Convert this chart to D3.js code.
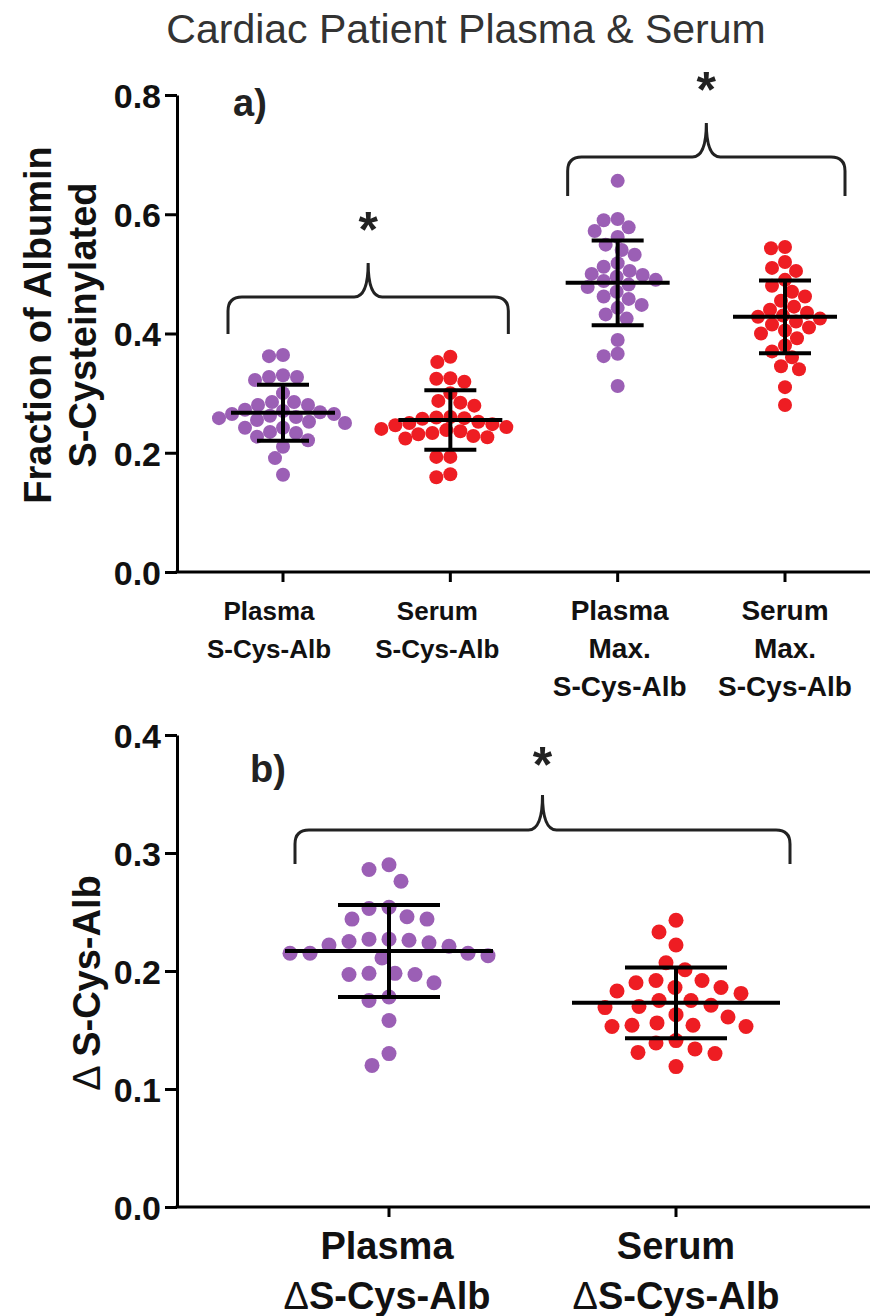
<!DOCTYPE html>
<html><head><meta charset="utf-8">
<script src="https://cdn.jsdelivr.net/npm/d3@7"></script>
<style>body{margin:0;background:#fff}svg{display:block}text{font-family:"Liberation Sans",Arial,sans-serif}</style>
</head><body>
<svg id="c" width="891" height="1316"></svg>
<script>
// ---- data ----
const catsA = ["Plasma|S-Cys-Alb", "Serum|S-Cys-Alb", "Plasma|Max.|S-Cys-Alb", "Serum|Max.|S-Cys-Alb"];
const colorsA = ["#9b5fb5", "#ee1d23", "#9b5fb5", "#ee1d23"];
const plasmaCys = [0.362,0.364,0.327,0.322,0.330,0.327,0.300,0.280,0.285,0.285,0.280,0.270,0.268,0.265,0.262,0.260,0.258,0.255,0.272,0.265,0.250,0.252,0.242,0.233,0.221,0.210,0.227,0.235,0.242,0.191,0.163];
const serumCys = [0.352,0.361,0.325,0.319,0.324,0.300,0.287,0.279,0.284,0.258,0.260,0.257,0.259,0.250,0.246,0.243,0.240,0.238,0.236,0.233,0.231,0.228,0.226,0.224,0.193,0.193,0.159,0.164,0.252,0.248];
const plasmaMax = [0.656,0.592,0.590,0.578,0.572,0.562,0.549,0.540,0.532,0.518,0.512,0.505,0.500,0.498,0.495,0.490,0.488,0.482,0.478,0.470,0.462,0.458,0.448,0.443,0.432,0.425,0.389,0.366,0.362,0.312];
const serumMax = [0.545,0.543,0.520,0.510,0.505,0.490,0.480,0.470,0.462,0.455,0.445,0.440,0.435,0.430,0.428,0.425,0.420,0.415,0.410,0.405,0.400,0.392,0.380,0.370,0.360,0.345,0.340,0.310,0.280];
const meansA = [0.267, 0.255, 0.485, 0.428];
const sdA = [0.047, 0.050, 0.071, 0.061];
const ticksA = [0, 0.2, 0.4, 0.6, 0.8];

const catsB = ["Plasma|ΔS-Cys-Alb", "Serum|ΔS-Cys-Alb"];
const colorsB = ["#9b5fb5", "#ee1d23"];
const plasmaDelta = [0.290,0.286,0.276,0.253,0.254,0.244,0.244,0.246,0.225,0.222,0.227,0.224,0.226,0.227,0.213,0.215,0.215,0.215,0.221,0.211,0.198,0.197,0.197,0.190,0.198,0.178,0.175,0.158,0.130,0.120];
const serumDelta = [0.243,0.233,0.222,0.207,0.201,0.192,0.186,0.183,0.181,0.186,0.190,0.192,0.175,0.171,0.169,0.170,0.175,0.161,0.163,0.154,0.153,0.153,0.154,0.156,0.141,0.139,0.131,0.130,0.134,0.119];
const meansB = [0.217, 0.173];
const sdB = [0.039, 0.030];
const ticksB = [0, 0.1, 0.2, 0.3, 0.4];

const svg = d3.select("#c");
const FONT = '"Liberation Sans",Arial,sans-serif';

svg.append("text").attr("x", 466).attr("y", 43).attr("text-anchor","middle")
  .attr("font-size", 41).attr("fill","#333").text("Cardiac Patient Plasma & Serum");

function beeswarm(vals, y, r, cx, D) {
  const sorted = vals.map((v,i)=>({v,i})).sort((a,b)=>b.v-a.v);
  const placed = [];
  sorted.forEach(p => {
    const py = y(p.v);
    let best = cx;
    for (let k = 0; k < 600; k++) {
      const off = (k % 2 === 0 ? 1 : -1) * Math.ceil(k/2);
      const px = cx + off;
      const ok = placed.every(q => (q.x-px)**2 + (q.y-py)**2 >= D*D);
      if (ok) { best = px; break; }
    }
    placed.push({x: best, y: py, v: p.v});
  });
  return placed;
}

function panel(cfg) {
  const {y, x, cats, groups, colors, means, sds, ticks, r, meanHalf, capHalf, xEnd} = cfg;
  const g = svg.append("g");
  const x0 = x.range()[0] - cfg.axisGap;
  const ax = g.append("g").attr("transform", `translate(${x0},0)`)
    .call(d3.axisLeft(y).tickValues(ticks).tickFormat(d3.format(".1f")).tickSize(12).tickSizeOuter(0));
  ax.select(".domain").attr("stroke","#000").attr("stroke-width",3);
  ax.selectAll(".tick line").attr("stroke","#000").attr("stroke-width",3);
  ax.selectAll(".tick text").attr("font-family",FONT).attr("font-weight","bold")
    .attr("font-size", 34).attr("fill","#111").attr("x",-16).attr("dy","0.36em");
  g.append("line").attr("x1", x0-1.5).attr("x2", xEnd).attr("y1", y(0)).attr("y2", y(0))
    .attr("stroke","#000").attr("stroke-width",3);
  cats.forEach((c, ci) => {
    g.append("line").attr("x1", x(c)).attr("x2", x(c)).attr("y1", y(0)).attr("y2", y(0)+10)
      .attr("stroke","#000").attr("stroke-width",3);
    const lines = c.split("|");
    const fs = cfg.labelSize[ci];
    lines.forEach((t,i) => {
      const tx = g.append("text").attr("x", x(c) + cfg.labelShift[ci]).attr("y", cfg.labelY + i*cfg.lineH)
        .attr("text-anchor","middle").attr("font-weight","bold").attr("font-size", fs).attr("fill","#111");
      if (t.startsWith("Δ")) {
        tx.append("tspan").attr("font-weight","normal").text("Δ");
        tx.append("tspan").text(t.slice(1));
      } else tx.text(t);
    });
  });
  groups.forEach((vals, gi) => {
    const pts = beeswarm(vals, y, r, x(cats[gi]), cfg.D);
    g.append("g").selectAll("circle").data(pts).join("circle")
      .attr("cx", d=>d.x).attr("cy", d=>d.y).attr("r", r).attr("fill", colors[gi]);
  });
  cats.forEach((c, gi) => {
    const cx = x(c), m = means[gi], s = sds[gi];
    const eg = g.append("g").attr("stroke","#000").attr("stroke-width",4);
    eg.append("line").attr("x1", cx-meanHalf).attr("x2", cx+meanHalf).attr("y1", y(m)).attr("y2", y(m));
    eg.append("line").attr("x1", cx).attr("x2", cx).attr("y1", y(m+s)).attr("y2", y(m-s));
    eg.append("line").attr("x1", cx-capHalf).attr("x2", cx+capHalf).attr("y1", y(m+s)).attr("y2", y(m+s));
    eg.append("line").attr("x1", cx-capHalf).attr("x2", cx+capHalf).attr("y1", y(m-s)).attr("y2", y(m-s));
  });
  return g;
}

function brace(xl, xr, yTop, yEnd, yPeak, starY) {
  const xm = (xl + xr)/2, rr = 14;
  const p = d3.path();
  p.moveTo(xl, yEnd);
  p.lineTo(xl, yTop + rr);
  p.quadraticCurveTo(xl, yTop, xl + rr, yTop);
  p.lineTo(xm - rr, yTop);
  p.quadraticCurveTo(xm, yTop, xm, yPeak);
  p.quadraticCurveTo(xm, yTop, xm + rr, yTop);
  p.lineTo(xr - rr, yTop);
  p.quadraticCurveTo(xr, yTop, xr, yTop + rr);
  p.lineTo(xr, yEnd);
  svg.append("path").attr("d", p.toString()).attr("fill","none").attr("stroke","#222").attr("stroke-width",3);
  svg.append("text").attr("x", xm).attr("y", starY).attr("text-anchor","middle")
    .attr("font-weight","bold").attr("font-size", 50).attr("fill","#222").text("*");
}

// ---- panel a ----
const yA = d3.scaleLinear().domain([0, 0.8]).range([572, 95]);
const xA = d3.scalePoint().domain(catsA).range([283, 785]);
panel({y: yA, x: xA, cats: catsA, groups: [plasmaCys, serumCys, plasmaMax, serumMax], colors: colorsA,
  means: meansA, sds: sdA, ticks: ticksA, r: 7, D: 13.5, meanHalf: 52, capHalf: 26, xEnd: 870, axisGap: 106,
  labelSize: [26, 26, 28, 28], labelShift: [-14, -13, 2, 0], labelY: 620, lineH: 38});
svg.append("text").attr("x", 233).attr("y", 116).attr("font-weight","bold").attr("font-size",38).attr("fill","#222").text("a)");
svg.append("text").attr("transform","translate(51,325) rotate(-90)").attr("text-anchor","middle")
  .attr("font-weight","bold").attr("font-size",38).attr("fill","#111").text("Fraction of Albumin");
svg.append("text").attr("transform","translate(96,325) rotate(-90)").attr("text-anchor","middle")
  .attr("font-weight","bold").attr("font-size",38).attr("fill","#111").text("S-Cysteinylated");
brace(xA(catsA[0]) - 55, xA(catsA[1]) + 58, 297, 334, 263, 247);
brace(xA(catsA[2]) - 50, xA(catsA[3]) + 60, 157, 196, 123, 107);

// ---- panel b ----
const yB = d3.scaleLinear().domain([0, 0.4]).range([1207, 735]);
const xB = d3.scalePoint().domain(catsB).range([389, 676]);
panel({y: yB, x: xB, cats: catsB, groups: [plasmaDelta, serumDelta], colors: colorsB,
  means: meansB, sds: sdB, ticks: ticksB, r: 7.5, D: 20, meanHalf: 104, capHalf: 51, xEnd: 870, axisGap: 212,
  labelSize: [38, 38], labelShift: [-2, 0], labelY: 1259, lineH: 50});
svg.append("text").attr("x", 250).attr("y", 782).attr("font-weight","bold").attr("font-size",38).attr("fill","#222").text("b)");
const tb = svg.append("text").attr("transform","translate(100,983) rotate(-90)").attr("text-anchor","middle")
  .attr("font-weight","bold").attr("font-size",38).attr("fill","#111");
tb.append("tspan").attr("font-weight","normal").text("Δ ");
tb.append("tspan").text("S-Cys-Alb");
brace(xB(catsB[0]) - 94, xB(catsB[1]) + 114, 830, 864, 795, 782);
</script>
</body></html>
